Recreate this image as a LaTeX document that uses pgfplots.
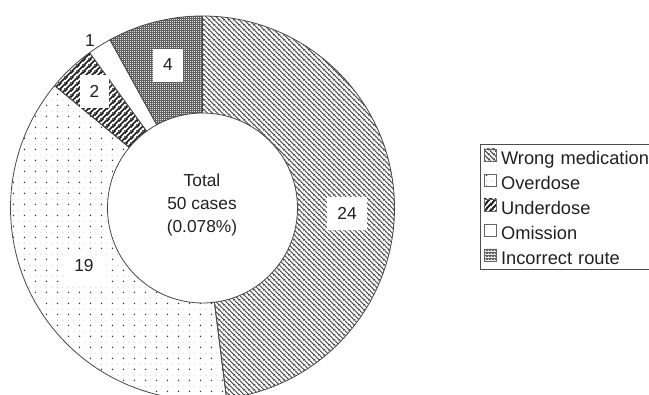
\documentclass[border=0pt]{standalone}
\usepackage{pgfplots}
\usepackage{pgfplotstable}
\pgfplotsset{compat=1.18}
\usetikzlibrary{patterns}
\usepackage{fontspec}
\setmainfont{Liberation Sans}

% ---- fill patterns for the five categories ----
\pgfdeclarepatterninherentlycolored{wrongmed}
  {\pgfpointorigin}{\pgfpoint{3.75pt}{3.75pt}}{\pgfpoint{3.75pt}{3.75pt}}
{%
  \pgfsetstrokecolor{black!75}%
  \pgfsetlinewidth{0.85pt}%
  \pgfpathmoveto{\pgfpoint{-0.5pt}{4.25pt}}\pgfpathlineto{\pgfpoint{4.25pt}{-0.5pt}}%
  \pgfpathmoveto{\pgfpoint{-0.5pt}{0.5pt}}\pgfpathlineto{\pgfpoint{0.5pt}{-0.5pt}}%
  \pgfpathmoveto{\pgfpoint{3.25pt}{4.25pt}}\pgfpathlineto{\pgfpoint{4.25pt}{3.25pt}}%
  \pgfusepath{stroke}%
}
\pgfdeclarepatterninherentlycolored{overdose}
  {\pgfpointorigin}{\pgfpoint{8.25pt}{8.1pt}}{\pgfpoint{8.25pt}{8.1pt}}
{%
  \pgfsetfillcolor{black!80}%
  \pgfpathcircle{\pgfpoint{2pt}{2pt}}{0.65pt}%
  \pgfusepath{fill}%
  \pgfsetstrokecolor{black!35}%
  \pgfsetlinewidth{0.4pt}%
  \pgfpathmoveto{\pgfpoint{1.4pt}{6.05pt}}\pgfpathlineto{\pgfpoint{2.6pt}{6.05pt}}%
  \pgfpathmoveto{\pgfpoint{5.5pt}{6.05pt}}\pgfpathlineto{\pgfpoint{6.7pt}{6.05pt}}%
  \pgfusepath{stroke}%
}
\pgfdeclarepatterninherentlycolored{underdose}
  {\pgfpointorigin}{\pgfpoint{4.5pt}{4.5pt}}{\pgfpoint{4.5pt}{4.5pt}}
{%
  \pgfsetstrokecolor{black!88}%
  \pgfsetlinewidth{1.5pt}%
  \pgfpathmoveto{\pgfpoint{-1pt}{-1pt}}\pgfpathlineto{\pgfpoint{5.5pt}{5.5pt}}%
  \pgfpathmoveto{\pgfpoint{-1pt}{3.5pt}}\pgfpathlineto{\pgfpoint{1pt}{5.5pt}}%
  \pgfpathmoveto{\pgfpoint{3.5pt}{-1pt}}\pgfpathlineto{\pgfpoint{5.5pt}{1pt}}%
  \pgfusepath{stroke}%
}
\pgfdeclarepatterninherentlycolored{incroute}
  {\pgfpointorigin}{\pgfpoint{1.8pt}{1.8pt}}{\pgfpoint{1.8pt}{1.8pt}}
{%
  \pgfsetfillcolor{black!62}%
  \pgfpathrectangle{\pgfpointorigin}{\pgfpoint{1.8pt}{1.8pt}}%
  \pgfusepath{fill}%
  \pgfsetfillcolor{black!12}%
  \pgfpathrectangle{\pgfpointorigin}{\pgfpoint{0.8pt}{0.8pt}}%
  \pgfusepath{fill}%
}

% ---- medication error cases (label positions in chart units) ----
\pgfplotstableread{
value lx    ly    pat      lbl
24    347   180.5 wrongmed boxed
19    84    128   overdose boxed
2     94.5  302.5 underdose boxed
1     90    353   omission plain
4     168   329   incroute boxed
}\errtable

\tikzset{
  wedge/.style={draw=black!72, line width=0.6pt},
  wedge wrongmed/.style={pattern=wrongmed},
  wedge overdose/.style={pattern=overdose},
  wedge underdose/.style={pattern=underdose},
  wedge omission/.style={fill=white},
  wedge incroute/.style={pattern=incroute},
  label boxed/.style={fill=white, inner xsep=7.5pt, inner ysep=0pt,
    minimum height=24.75pt, text=black!87, font=\fontsize{13}{15.6}\selectfont},
  label plain/.style={inner sep=0pt, text=black!87, font=\fontsize{13}{15.6}\selectfont},
}

% donut geometry
\def\cx{202.5}
\def\cy{186}
\def\Rout{144pt}
\def\Rin{71.25pt}

\begin{document}
\begin{tikzpicture}
\begin{axis}[
  scale only axis, width=486.75pt, height=295.5pt,
  xmin=0, xmax=649, ymin=0, ymax=394,
  hide axis,
  legend image code/.code={\draw[#1] (0pt,-3pt) rectangle (9pt,6pt); \path (10.5pt,0pt);},
  legend cell align=left,
  legend style={
    at={(axis cs:480,250)}, anchor=north west,
    draw=black!70, line width=0.6pt,
    inner xsep=2.5pt, inner ysep=1pt, row sep=2pt,
    font=\fontsize{13.7}{16}\selectfont,
    nodes={inner xsep=2pt, inner ysep=0pt, text height=14pt, text depth=2.75pt, text=black!87},
    /tikz/every even column/.append style={text width=140pt},
  },
  legend entries={Wrong medication, Overdose, Underdose, Omission, Incorrect route},
]
\addlegendimage{draw=black!60, line width=0.5pt, pattern=wrongmed}
\addlegendimage{draw=black!60, line width=0.5pt, pattern=overdose}
\addlegendimage{draw=black!60, line width=0.5pt, pattern=underdose}
\addlegendimage{draw=black!60, line width=0.5pt, fill=white}
\addlegendimage{draw=black!60, line width=0.5pt, pattern=incroute}

\coordinate (bl) at (rel axis cs:0,0);
\coordinate (tr) at (rel axis cs:1,1);

\pgfplotstablegetrowsof{\errtable}
\pgfmathtruncatemacro\lastrow{\pgfplotsretval-1}
\def\total{0}
\pgfplotsforeachungrouped \i in {0,...,\lastrow}{%
  \pgfplotstablegetelem{\i}{value}\of\errtable
  \pgfmathsetmacro\total{\total+\pgfplotsretval}%
}
% wedges, clockwise from twelve o'clock
\def\cum{0}
\pgfplotsforeachungrouped \i in {0,...,\lastrow}{%
  \pgfplotstablegetelem{\i}{value}\of\errtable \let\wv\pgfplotsretval
  \pgfplotstablegetelem{\i}{pat}\of\errtable \let\wp\pgfplotsretval
  \pgfmathsetmacro\aS{90-\cum/\total*360}%
  \pgfmathsetmacro\cum{\cum+\wv}%
  \pgfmathsetmacro\aE{90-\cum/\total*360}%
  \edef\next{\noexpand\path[wedge, wedge \wp]
    ([shift={(\aS:\Rout)}]axis cs:\cx,\cy)
    arc[start angle=\aS, end angle=\aE, radius=\Rout]
    -- ([shift={(\aE:\Rin)}]axis cs:\cx,\cy)
    arc[start angle=\aE, end angle=\aS, radius=\Rin] -- cycle;}%
  \next
}
% value labels
\pgfplotsforeachungrouped \i in {0,...,\lastrow}{%
  \pgfplotstablegetelem{\i}{value}\of\errtable \let\wv\pgfplotsretval
  \pgfplotstablegetelem{\i}{lx}\of\errtable \let\lx\pgfplotsretval
  \pgfplotstablegetelem{\i}{ly}\of\errtable \let\ly\pgfplotsretval
  \pgfplotstablegetelem{\i}{lbl}\of\errtable \let\lb\pgfplotsretval
  \edef\next{\noexpand\node[label \lb] at (axis cs:\lx,\ly) {\wv};}%
  \next
}
\node[align=center, text=black!87, font=\fontsize{13}{16.9}\selectfont]
  at (axis cs:202,189) {Total\\50 cases\\(0.078\%)};
\end{axis}
\pgfresetboundingbox
\useasboundingbox (bl) rectangle (tr);
\end{tikzpicture}
\end{document}
